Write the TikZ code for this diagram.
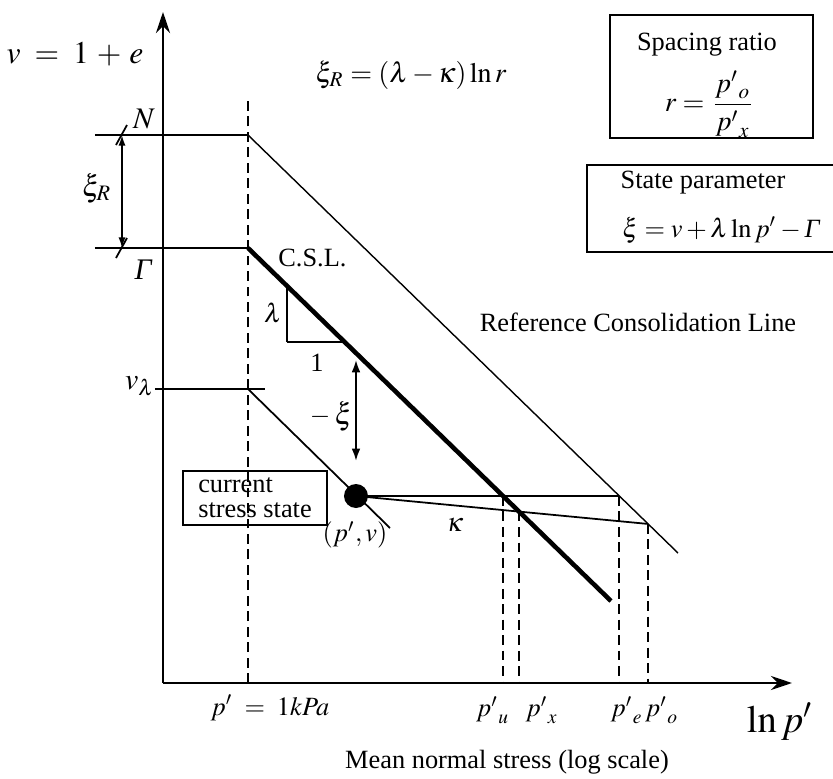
\documentclass[tikz,border=0pt]{standalone}
\usepackage{mathptmx}
\usepackage[no-math]{fontspec}
\setmainfont{Liberation Serif}
\usetikzlibrary{arrows.meta,intersections}

\begin{document}
\begin{tikzpicture}[font=\fontsize{7.5}{9}\selectfont,
  dashline/.style={line width=0.5pt,dash pattern=on 2.8pt off 1.6pt},
  bigmath/.style={font=\fontsize{8.5}{10}\selectfont}]
\useasboundingbox (0,0) rectangle (8.33,7.78);
\clip (0,0) rectangle (8.33,7.78);
\coordinate (O) at (1.63,0.95);
\draw[line width=0.8pt,-{Stealth[length=6pt,width=4pt]}] (O)--(7.92,0.95);
\draw[line width=0.8pt,-{Stealth[length=6pt,width=4pt]}] (O)--(1.63,7.66);
\draw[dashline] (2.48,0.95)--(2.48,6.81);
\draw[line width=0.6pt] (0.95,6.43)--(2.48,6.43);
\draw[line width=0.6pt] (0.95,5.30)--(2.48,5.30);
\draw[name path=rcl,line width=0.4pt] (2.48,6.43)--(6.78,2.25);
\draw[name path=csl,line width=1.3pt] (2.48,5.30)--(6.11,1.77);
\draw[line width=0.6pt] (1.55,3.89)--(2.65,3.89);
\draw[line width=0.5pt] (2.48,3.89)--(3.90,2.50);
\draw[line width=0.5pt,{Latex[length=3pt,width=2pt]}-{Latex[length=3pt,width=2pt]}] (1.22,6.43)--(1.22,5.30);
\draw[line width=0.5pt] (1.16,6.33)--(1.27,6.53);
\draw[line width=0.5pt] (1.16,5.20)--(1.27,5.40);
\coordinate (dot) at (3.56,2.82);
\path[name path=hor] (dot)--(7.5,2.82);
\path[name path=kap] (dot)--(7.5,2.443);
\path[name path=vert] (dot)--(3.56,5);
\path[name intersections={of=hor and csl,by=pu}];
\path[name intersections={of=hor and rcl,by=pe}];
\path[name intersections={of=kap and csl,by=px}];
\path[name intersections={of=kap and rcl,by=po}];
\path[name intersections={of=vert and csl,by=xi}];
\draw[line width=0.5pt] (dot)--(pe);
\draw[line width=0.5pt] (dot)--(po);
\draw[dashline] (pu)--(pu|-O);
\draw[dashline] (px)--(px|-O);
\draw[dashline] (pe)--(pe|-O);
\draw[dashline] (po)--(po|-O);
\draw[line width=0.5pt,{Latex[length=3.5pt,width=2.5pt]}-{Latex[length=3.5pt,width=2.5pt]}] ([yshift=-2pt]xi)--([yshift=10pt]dot);
\node[circle,fill,inner sep=0pt,minimum size=0.24cm] (state) at (dot) {};
\draw[line width=0.6pt] (2.87,4.36)--(2.87,4.92);
\draw[line width=0.6pt] (2.87,4.36)--(3.45,4.36);
\node[font=\fontsize{9}{11}\selectfont] (vaxis) at (0.75,7.24) {$v\;=\;1\,+\,e$};
\node[font=\fontsize{8}{10}\selectfont] (xir) at (4.11,7.03) {$\xi_R=(\lambda-\kappa)\ln r$};
\node[bigmath] (nlab) at (1.44,6.59) {$N$};
\node[bigmath] (glab) at (1.43,5.08) {\itshape Γ};
\node[bigmath] (xirlab) at (0.97,5.90) {$\xi_R$};
\node[bigmath] (vlam) at (1.40,3.92) {$v_\lambda$};
\node[anchor=west] (csllab) at (2.66,5.20) {C.S.L.};
\node (lamlab) at (2.73,4.65) {$\lambda$};
\node (onelab) at (3.17,4.15) {1};
\node (minus) at (3.20,3.61) {$-$};
\node[bigmath] (xilab) at (3.44,3.62) {$\xi$};
\node[draw,line width=0.7pt,align=left,inner sep=2pt,minimum width=1.44cm,minimum height=0.49cm] (cur) at (2.55,2.80) {current\\[-2pt]stress state};
\node (pvlab) at (3.55,2.43) {$(p',v)$};
\node (kaplab) at (4.55,2.53) {$\kappa$};
\node (rcllab) at (6.38,4.56) {Reference Consolidation Line};
\node[draw,line width=0.7pt,minimum width=2.03cm,minimum height=1.23cm] (ratiobox) at (7.115,7.015) {};
\node (ratiotxt) at (7.07,7.33) {Spacing ratio};
\node[font=\fontsize{8}{10}\selectfont] (ratioeq) at (7.10,6.74) {$r=\displaystyle\frac{{p'}_o}{{p'}_x}$};
\draw[line width=0.7pt] (8.45,6.13)--(5.87,6.13)--(5.87,5.26)--(8.45,5.26);
\node (statetxt) at (7.03,5.95) {State parameter};
\node[anchor=west,font=\fontsize{7.5}{9}\selectfont] (stateeq) at (6.10,5.48) {$\xi=v+\lambda\ln p'-\mbox{\itshape Γ}$};
\node (kpalab) at (2.70,0.70) {$p'\;=\;1kPa$};
\node (pulab) at (4.93,0.68) {${p'}_u$};
\node (pxlab) at (5.42,0.68) {${p'}_x$};
\node (pelab) at (6.27,0.68) {${p'}_e$};
\node (polab) at (6.62,0.68) {${p'}_o$};
\node[font=\fontsize{11}{13}\selectfont] (lnp) at (7.80,0.56) {$\ln p'$};
\node (xlab) at (5.07,0.16) {Mean normal stress (log scale)};
\end{tikzpicture}
\end{document}
